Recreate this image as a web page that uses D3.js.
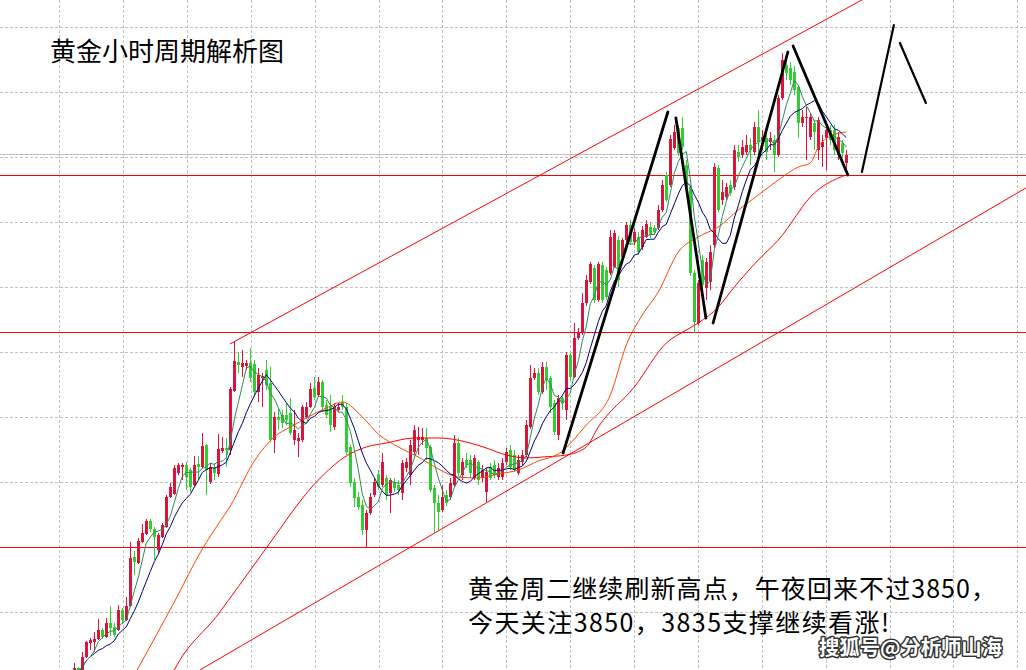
<!DOCTYPE html>
<html><head><meta charset="utf-8">
<script src="https://cdn.jsdelivr.net/npm/d3@7"></script>
<style>html,body{margin:0;padding:0;background:#fff;overflow:hidden}svg{display:block}</style>
</head><body><svg id="c" width="1026" height="670"></svg>
<script>
// ---- data (hourly gold candles) ----
const opens = [
3599.5,3603.5,3599.5,3609,3616,3616.5,3618,3622.5,3619,3626,
3624,3622.5,3632.5,3627.5,3634.5,3659,3656,3666.5,3670.5,3677,
3673,3662.5,3669,3674,3689,3690.5,3701,3704,3705,3702.5,
3695,3705.5,3704,3715,3696.5,3703.5,3700.5,3712,3713.5,3712.5,
3742,3756.5,3754,3754.5,3756,3755.5,3741.5,3748.5,3752.5,3746,
3717.5,3729,3730,3730,3731,3717.5,3717,3717.5,3729,3734,
3743.5,3740,3746.5,3735,3734.5,3724,3732.5,3736.5,3734,3714,
3696.5,3689,3685,3672.5,3681,3690,3700.5,3695,3698.5,3691,
3696.5,3695,3691,3703.5,3700,3711.5,3717.5,3717.5,3718.5,3714,
3693.5,3686,3682.5,3690,3689,3695,3716,3700,3707.5,3707.5,
3698.5,3706.5,3698.5,3691.5,3704,3705,3699,3699,3706.5,3712.5,
3710,3701,3706.5,3710,3724,3748.5,3751,3741.5,3754,3748.5,
3736,3720,3738.5,3732.5,3760,3749,3768.5,3771,3786,3796.5,
3803.5,3787.5,3805,3802.5,3801,3804,3817.5,3809,3817.5,3825,
3816.5,3819,3814,3819,3824,3823.5,3823.5,3832.5,3850,3845,
3863.5,3873.5,3873.5,3855,3844,3801,3776,3807.5,3793.5,3796.5,
3815,3853.5,3837.5,3839,3845,3844,3861.5,3860,3861.5,3865,
3861.5,3874,3867.5,3868.5,3866.5,3867.5,3860,3888.5,3905,3903.5,
3901.5,3894,3876,3878.5,3869,3876,3862.5,3864,3868.5,3872.5,
3872.5,3860,3866,3856];
const highs = [
3606,3604,3611.5,3617,3618.5,3621.5,3628,3623.5,3628.5,3634.5,
3626,3635,3633.5,3639,3666.5,3662,3668.5,3675.5,3678,3678,
3674,3671,3676,3690,3696,3705,3706,3706,3706.5,3703.5,
3709.5,3709.5,3721,3715.5,3706,3706,3720.5,3719,3718.5,3744,
3766.5,3761.5,3762.5,3757.5,3763.5,3757.5,3753.5,3751,3757.5,3754,
3731.5,3733.5,3732.5,3736,3738.5,3732.5,3721,3735,3736.5,3746,
3749,3749,3747.5,3737.5,3740,3736,3736,3740,3736,3715,
3698.5,3691.5,3687.5,3682.5,3691,3698.5,3702.5,3711,3700,3698.5,
3698.5,3697.5,3707.5,3708.5,3717.5,3725,3724,3723.5,3723.5,3715,
3695,3690,3695,3692.5,3698.5,3720,3718.5,3708.5,3711,3710,
3710,3707.5,3705,3703.5,3706,3707.5,3706,3708.5,3713.5,3715,
3712.5,3710,3712.5,3727.5,3755,3753.5,3753.5,3756.5,3756.5,3749.5,
3737.5,3740,3739.5,3761.5,3761,3776,3773.5,3791,3800,3806.5,
3805,3806.5,3806.5,3804,3822.5,3822.5,3819.5,3818.5,3826.5,3827.5,
3823.5,3821.5,3824.5,3827.5,3826.5,3825,3835,3847.5,3851.5,3870,
3875,3875,3879,3857.5,3845,3802.5,3797.5,3810,3808.5,3815,
3856,3855,3847.5,3846,3847.5,3865,3865,3867.5,3870,3868.5,
3876.5,3882.5,3872.5,3871.5,3871.5,3870,3890,3911,3910.5,3906.5,
3904.5,3895,3882.5,3884,3881,3877.5,3879,3870,3875,3875,
3875,3871.5,3867.5,3862.5];
const lows = [
3597.5,3595.5,3598.5,3608.5,3612.5,3611.5,3617.5,3618,3618.5,3619.5,
3619,3622,3625.5,3627,3634,3650,3655.5,3666,3670,3671.5,
3657.5,3661,3668.5,3673.5,3688.5,3690,3700,3697.5,3692.5,3691.5,
3694,3697.5,3703.5,3690,3695.5,3697.5,3699,3711,3704,3710,
3741.5,3751,3749,3752.5,3746.5,3739,3736.5,3734,3742.5,3716.5,
3711,3722.5,3723.5,3725,3720,3715,3709,3716.5,3728,3733.5,
3737.5,3739,3731.5,3728.5,3721.5,3722.5,3731.5,3732.5,3710,3694,
3684,3682.5,3670,3663.5,3680,3689,3692.5,3694,3687.5,3681,
3691.5,3690,3687.5,3701.5,3695,3710,3710,3715,3707.5,3691.5,
3671,3672.5,3681.5,3684.5,3687.5,3694,3699.5,3697.5,3703.5,3698.5,
3697.5,3695,3696.5,3686.5,3697.5,3698.5,3697.5,3697.5,3705,3702.5,
3701.5,3700,3705,3709,3723,3747.5,3740,3740.5,3742.5,3731,
3720,3717.5,3732.5,3727.5,3747.5,3748.5,3767.5,3770,3784.5,3795.5,
3786,3786.5,3786,3787.5,3800,3803.5,3794,3807.5,3816.5,3815,
3815,3810,3812.5,3818.5,3818.5,3820,3822.5,3831.5,3836.5,3844,
3862.5,3859.5,3862.5,3842.5,3799.5,3771,3775,3793.5,3787.5,3792.5,
3813.5,3831.5,3835,3837.5,3839.5,3842.5,3856.5,3858.5,3860,3855,
3860,3857.5,3862.5,3857.5,3862.5,3851.5,3859,3887.5,3897.5,3895,
3890,3868.5,3874,3857.5,3867.5,3862.5,3857.5,3854,3852.5,3865,
3860,3857.5,3858.5,3851.5];
const closes = [
3603.5,3599.5,3609,3616.5,3617.5,3618,3622.5,3619,3626,3623.5,
3620,3632.5,3627.5,3634.5,3658.5,3656.5,3667,3671,3677,3673,
3669,3670,3675,3689,3694,3703.5,3705,3705,3699,3694,
3705,3704,3714.5,3702.5,3704,3701,3713,3713.5,3712.5,3743,
3757,3755,3756,3756,3748.5,3741.5,3750,3749.5,3745,3717.5,
3729,3727.5,3726,3727.5,3721,3722.5,3718.5,3734,3734,3743,
3739,3746.5,3734,3730,3725,3734,3734,3734,3711.5,3696,
3688.5,3684,3672.5,3681,3689,3696.5,3694,3706.5,3690,3697.5,
3693.5,3692.5,3706,3706.5,3715,3722.5,3719,3719,3713.5,3692.5,
3686,3681.5,3689,3686,3696,3716,3701,3706.5,3705,3701,
3708.5,3697.5,3702.5,3701.5,3698.5,3700,3703.5,3706,3711.5,3704,
3702.5,3707.5,3710,3725,3748.5,3751,3741.5,3754,3747.5,3734,
3721.5,3738.5,3736,3760,3749,3768.5,3771,3786,3797.5,3805.5,
3787.5,3805.5,3787.5,3789,3819,3821,3797.5,3817.5,3825,3816.5,
3821.5,3811.5,3822.5,3825.5,3820,3821.5,3832.5,3845,3837.5,3868,
3871.5,3861,3864,3844,3801,3776.5,3796,3795,3806.5,3811.5,
3854,3832.5,3841.5,3844,3841,3862.5,3859,3864,3865,3862.5,
3874,3866.5,3869,3861.5,3868.5,3860,3888.5,3907.5,3901,3897.5,
3892.5,3876,3879,3879,3879,3871.5,3877.5,3866.5,3872.5,3867.5,
3862.5,3869,3861,3860];

// slow moving averages: [candle index, price]
const maOrange = [[15,3600],[25,3636.5],[32,3663],[36,3675.5],[39,3684.5],[45,3707],[50,3719],[55,3725],[58,3728.5],[63,3733.5],[67,3736.5],[72,3729],[76,3720.5],[81,3714],[86,3709],[91,3703],[96,3699],[101,3698.5],[106,3700.5],[111,3702.5],[116,3707],[121,3710.5],[128,3725],[134,3740],[138,3765],[142,3780],[146,3791.5],[151,3811.5],[156,3819],[161,3824],[166,3832.5],[171,3840],[176,3847.5],[181,3854],[184,3856],[186,3864],[189,3869.5],[193,3871.5]];
const maRed = [[24,3598.5],[25,3602.5],[36,3630.5],[46,3658],[48,3663.5],[61,3697.5],[68,3709.5],[73,3714],[78,3716],[85,3718.5],[91,3718.5],[98,3716.5],[103,3713.5],[108,3710],[113,3708.5],[117,3709],[123,3710],[128,3714],[131,3724],[140,3744],[148,3766],[153,3772.5],[156,3776],[161,3784],[165,3794],[171,3807.5],[176,3817.5],[185,3841],[191,3848.5],[193,3850]];

// drawn levels and lines
const levels = [3850, 3771.5, 3664];
const bidPrice = 3860.5;
const upperChannel = [[38.9,3765.5],[200,3940.9]];
const lowerChannel = [[31.4,3602.5],[237.9,3843.5]];
const trendLines = [
  [[122.2,3711],[148.4,3881.5]],
  [[150.4,3878.5],[157.9,3778.5]],
  [[159.7,3776],[178.4,3911.5]],
  [[179.7,3914.5],[193.4,3850]],
  [[196.9,3851.5],[204.9,3925]],
  [[206.4,3916],[212.9,3886]]
];
const trendWidths = [2.8,2.8,2.8,2.8,2.2,2.2];
const gridIdx = d3.range(16).map(k => -3.8 + 15.97*k);
const gridPrice = d3.range(10).map(k => 3924 - 32.5*k);
const title = "黄金小时周期解析图";
const note1 = "黄金周二继续刷新高点，午夜回来不过3850，";
const note2 = "今天关注3850，3835支撑继续看涨!";
const mark = "搜狐号@分析师山海";

// ---- drawing ----
const W = 1026, H = 670;
const svg = d3.select('#c');
const x = d3.scaleLinear().domain([0,193]).range([74.3,846.3]);
const y = d3.scaleLinear().domain([3602.5,3937.5]).range([670,0]);
const px = v => Math.round(v) + 0.5;

svg.append('rect').attr('width',W).attr('height',H).attr('fill','#fff');

// grid
const grid = svg.append('g').attr('stroke','#c0c0c0').attr('stroke-dasharray','3,2').attr('stroke-width',1);
grid.selectAll('.gv').data(gridIdx).join('line')
  .attr('x1',d=>px(x(d))).attr('x2',d=>px(x(d))).attr('y1',0).attr('y2',H);
grid.selectAll('.gh').data(gridPrice).join('line')
  .attr('y1',d=>px(y(d))).attr('y2',d=>px(y(d))).attr('x1',0).attr('x2',W);

// bid line
svg.append('line').attr('x1',0).attr('x2',W).attr('y1',px(y(bidPrice))).attr('y2',px(y(bidPrice)))
  .attr('stroke','#c0c0c0').attr('stroke-width',1);

// horizontal levels
svg.selectAll('.lvl').data(levels).join('line')
  .attr('x1',0).attr('x2',W).attr('y1',d=>px(y(d))).attr('y2',d=>px(y(d)))
  .attr('stroke','#ff0000').attr('stroke-width',1);

// channel lines
const seg = d3.line().x(d=>x(d[0])).y(d=>y(d[1]));
[upperChannel, lowerChannel].forEach(c => {
  svg.append('path').attr('d',seg(c)).attr('fill','none').attr('stroke','#ff0000').attr('stroke-width',1);
});

// candles
const idx = d3.range(closes.length);
const cg = svg.append('g');
const col = i => closes[i] >= opens[i] ? '#dc143c' : '#32cd32';
cg.selectAll('.wick').data(idx).join('line')
  .attr('x1',i=>px(x(i))).attr('x2',i=>px(x(i)))
  .attr('y1',i=>y(highs[i])).attr('y2',i=>y(lows[i]))
  .attr('stroke',col).attr('stroke-width',1);
cg.selectAll('.body').data(idx).join('rect')
  .attr('x',i=>Math.round(x(i))-1).attr('width',3)
  .attr('y',i=>y(Math.max(opens[i],closes[i])))
  .attr('height',i=>Math.max(1, y(Math.min(opens[i],closes[i])) - y(Math.max(opens[i],closes[i]))))
  .attr('fill',col);

// fast moving averages from closes
function movAvg(n){
  return idx.map(i => ({i, v: d3.mean(closes.slice(Math.max(0,i-n+1), i+1))}));
}
const lineMA = d3.line().x(d=>x(d.i)).y(d=>y(d.v));
const lineRead = d3.line().x(d=>x(d[0])).y(d=>y(d[1])).curve(d3.curveMonotoneX);
svg.append('path').attr('d',lineRead(maRed)).attr('fill','none').attr('stroke','#ff0000').attr('stroke-width',1);
svg.append('path').attr('d',lineRead(maOrange)).attr('fill','none').attr('stroke','#ff4500').attr('stroke-width',1);
svg.append('path').attr('d',lineMA(movAvg(10))).attr('fill','none').attr('stroke','#000080').attr('stroke-width',1);
svg.append('path').attr('d',lineMA(movAvg(5))).attr('fill','none').attr('stroke','#2e8b57').attr('stroke-width',1);

// hand-drawn black trend lines
trendLines.forEach((t,k) => {
  svg.append('path').attr('d',seg(t)).attr('fill','none').attr('stroke','#000')
    .attr('stroke-width',trendWidths[k]).attr('stroke-linecap','round');
});

// texts
const font = "'Noto Sans CJK SC','Noto Sans',sans-serif";
svg.append('text').attr('x',50).attr('y',61).attr('font-family',font).attr('font-size',26)
  .attr('textLength',234).attr('lengthAdjust','spacingAndGlyphs').attr('fill','#000').text(title);
svg.append('text').attr('x',468).attr('y',598).attr('font-family',font).attr('font-size',25)
  .attr('textLength',528).attr('lengthAdjust','spacing').attr('fill','#000').text(note1);
svg.append('text').attr('x',468).attr('y',632).attr('font-family',font).attr('font-size',25)
  .attr('textLength',421).attr('lengthAdjust','spacing').attr('fill','#000').text(note2);
svg.append('text').attr('x',819).attr('y',655).attr('font-family',font).attr('font-size',20)
  .attr('font-weight','bold').attr('textLength',183).attr('lengthAdjust','spacingAndGlyphs')
  .attr('fill','#fff').attr('stroke','#333').attr('stroke-width',3).attr('paint-order','stroke')
  .attr('stroke-linejoin','round').text(mark);
</script></body></html>
